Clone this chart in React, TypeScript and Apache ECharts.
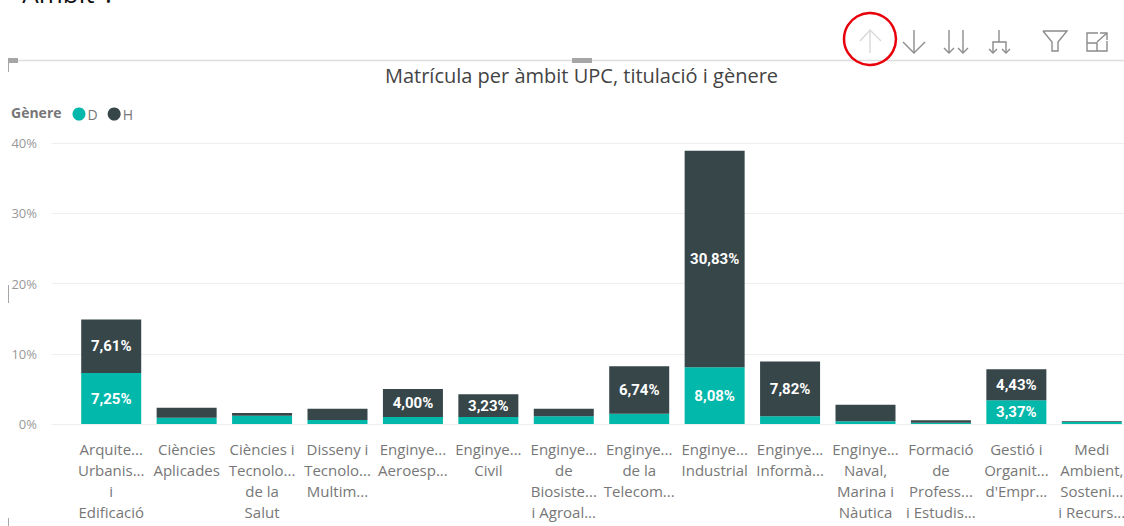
import React, { useEffect, useRef } from "react";
import * as echarts from "echarts";

const categories = [
  "Arquite...\nUrbanis...\ni\nEdificació",
  "Ciències\nAplicades",
  "Ciències i\nTecnolo...\nde la\nSalut",
  "Disseny i\nTecnolo...\nMultim...",
  "Enginye...\nAeroesp...",
  "Enginye...\nCivil",
  "Enginye...\nde\nBiosiste...\ni Agroal...",
  "Enginye...\nde la\nTelecom...",
  "Enginye...\nIndustrial",
  "Enginye...\nInformà...",
  "Enginye...\nNaval,\nMarina i\nNàutica",
  "Formació\nde\nProfess...\ni Estudis...",
  "Gestió i\nOrganit...\nd'Empr...",
  "Medi\nAmbient,\nSosteni...\ni Recurs...",
];
const womenValues = [7.25, 0.9, 1.19, 0.57, 1.0, 1.0, 1.09, 1.47, 8.08, 1.09, 0.38, 0.19, 3.37, 0.3];
const menValues = [7.61, 1.43, 0.38, 1.61, 4.0, 3.23, 1.09, 6.74, 30.83, 7.82, 2.37, 0.33, 4.43, 0.08];
const yTicks = [0, 10, 20, 30, 40];
const titleText = "Matrícula per àmbit UPC, titulació i gènere";
const legendTitle = "Gènere";
const seriesNames = ["D", "H"];
const topText = "\"Àmbit\".";

const TEAL = "#01B8AA";
const DARK = "#374649";
const FONT = "'Open Sans', 'Noto Sans', sans-serif";
const ICON = "#8c8c8c";

const formatPct = (v: number) => v.toFixed(2).replace(".", ",") + "%";

function poly(points: number[][], stroke = ICON, lineWidth = 1.4) {
  return { type: "polyline", silent: true, shape: { points }, style: { stroke, lineWidth, fill: "none" } };
}
function arrowDown(x: number, y0: number, y1: number, h: number) {
  return [poly([[x, y0], [x, y1]]), poly([[x - h, y1 - h], [x, y1], [x + h, y1 - h]])];
}

export default function App() {
  const ref = useRef<HTMLDivElement>(null);
  useEffect(() => {
    document.body.style.margin = "0";
    const chart = echarts.init(ref.current!, undefined, { renderer: "svg" });
    const label = {
      show: true,
      position: "inside" as const,
      color: "#fff",
      fontFamily: "Roboto, sans-serif",
      fontWeight: "bold" as const,
      fontSize: 15,
      formatter: (p: any) => (p.value >= 3 ? formatPct(p.value) : ""),
    };
    chart.setOption({
      animation: false,
      backgroundColor: "#fff",
      title: {
        text: titleText,
        left: 576.5,
        top: 60,
        textAlign: "center",
        textStyle: { fontFamily: FONT, fontWeight: "normal", fontSize: 20, color: "#444" },
      },
      legend: {
        data: seriesNames,
        left: 67.5,
        top: 102,
        icon: "circle",
        itemWidth: 13,
        itemHeight: 13,
        itemGap: 10,
        textStyle: { fontFamily: FONT, fontSize: 14, color: "#777", padding: [0, 0, 0, -3] },
      },
      grid: { left: 73.5, top: 143, width: 1056, height: 281, outerBoundsMode: "none" },
      xAxis: {
        type: "category",
        data: categories,
        axisLine: { show: false },
        axisTick: { show: false },
        axisLabel: {
          interval: 0,
          margin: 14,
          lineHeight: 21,
          fontFamily: FONT,
          fontSize: 15,
          color: "#777",
          align: "center",
        },
      },
      yAxis: {
        type: "value",
        min: 0,
        max: 40,
        interval: 10,
        axisLine: { show: false },
        axisTick: { show: true, length: 22, lineStyle: { color: "#eeeeee", width: 1 } },
        splitLine: { lineStyle: { color: "#eeeeee", width: 1 } },
        axisLabel: {
          margin: 36.5,
          fontFamily: FONT,
          fontSize: 13,
          color: "#999",
          formatter: (v: number) => (yTicks.includes(v) ? v + "%" : ""),
        },
      },
      series: [
        {
          name: seriesNames[0],
          type: "bar",
          stack: "total",
          barWidth: 60,
          data: womenValues,
          itemStyle: { color: TEAL },
          label,
        },
        {
          name: seriesNames[1],
          type: "bar",
          stack: "total",
          barWidth: 60,
          data: menValues,
          itemStyle: { color: DARK },
          label,
        },
      ],
      graphic: [
        { type: "text", silent: true, x: 12, y: -20, style: { text: topText, font: "26px 'Open Sans', sans-serif", fill: "#111" } },
        { type: "line", silent: true, shape: { x1: 8, y1: 60.5, x2: 1124, y2: 60.5 }, style: { stroke: "#dddddd", lineWidth: 1.5 } },
        { type: "rect", silent: true, shape: { x: 8, y: 58, width: 10, height: 5 }, style: { fill: "#a6a6a6" } },
        { type: "rect", silent: true, shape: { x: 572, y: 58, width: 20, height: 5 }, style: { fill: "#a6a6a6" } },
        { type: "line", silent: true, shape: { x1: 8.5, y1: 63, x2: 8.5, y2: 72 }, style: { stroke: "#a6a6a6", lineWidth: 1 } },
        { type: "line", silent: true, shape: { x1: 8.5, y1: 285, x2: 8.5, y2: 303 }, style: { stroke: "#a6a6a6", lineWidth: 1 } },
        { type: "line", silent: true, shape: { x1: 8.5, y1: 518, x2: 8.5, y2: 526 }, style: { stroke: "#a6a6a6", lineWidth: 1 } },
        { type: "text", silent: true, x: 11, y: 105, style: { text: legendTitle, font: "bold 14px 'Open Sans', sans-serif", fill: "#777" } },
        // up arrow, disabled
        poly([[870, 30], [870, 53]], "#d8d8d8"),
        poly([[860, 41], [870, 30], [881, 41]], "#d8d8d8"),
        { type: "circle", silent: true, shape: { cx: 870, cy: 39, r: 26 }, style: { stroke: "#e8000b", lineWidth: 2.5, fill: "none" } },
        ...arrowDown(914, 30, 53, 11),
        ...arrowDown(949, 30, 53, 5),
        ...arrowDown(963, 30, 53, 5),
        poly([[999, 30], [999, 42]]),
        poly([[993, 53], [993, 42], [1006, 42], [1006, 53]]),
        poly([[989, 49], [993, 53], [997, 49]]),
        poly([[1002, 49], [1006, 53], [1010, 49]]),
        poly([[1043, 31], [1067, 31], [1058, 42], [1058, 51], [1052, 51], [1052, 42], [1043, 31]]),
        poly([[1098, 33], [1087, 33], [1087, 51], [1107, 51], [1107, 41]]),
        poly([[1087, 43], [1097, 43], [1097, 51]]),
        poly([[1097, 42], [1107, 33]]),
        poly([[1100, 33], [1107, 33], [1107, 40]]),
      ],
    });
    return () => chart.dispose();
  }, []);
  return <div ref={ref} style={{ width: 1124, height: 526 }} />;
}
